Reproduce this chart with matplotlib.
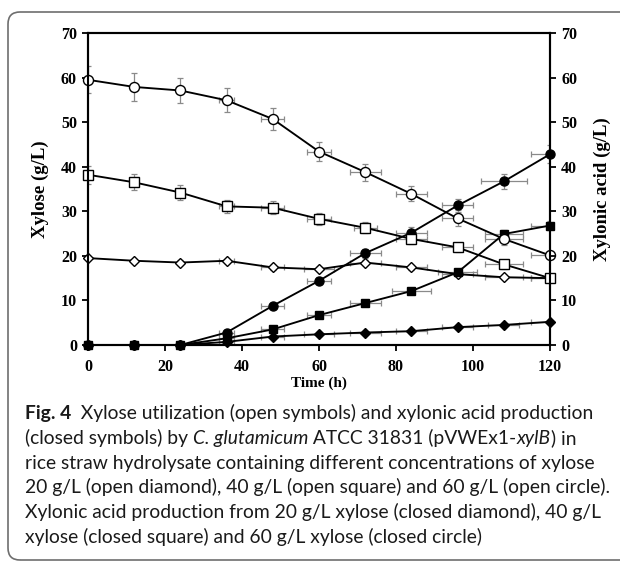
import matplotlib
matplotlib.use('Agg')
import matplotlib.pyplot as plt
from matplotlib.patches import FancyBboxPatch
from matplotlib.transforms import IdentityTransform
from matplotlib.font_manager import FontProperties

# Sampling times (h)
time = [0, 12, 24, 36, 48, 60, 72, 84, 96, 108, 120]

# Xylose (g/L), open symbols
xylose_60 = [59.5, 57.9, 57.1, 54.9, 50.7, 43.4, 38.8, 33.9, 28.4, 23.8, 20.1]
xylose_40 = [38.2, 36.5, 34.2, 31.1, 30.8, 28.3, 26.3, 23.8, 21.9, 18.1, 15.0]
xylose_20 = [19.5, 18.9, 18.5, 18.9, 17.4, 17.0, 18.5, 17.4, 15.9, 15.2, 15.0]

# Xylonic acid (g/L), closed symbols
acid_60 = [0, 0, 0, 2.8, 8.8, 14.4, 20.6, 25.2, 31.3, 36.7, 42.8]
acid_40 = [0, 0, 0, 1.5, 3.5, 6.7, 9.4, 12.1, 16.3, 24.9, 26.8]
acid_20 = [0, 0, 0, 0.7, 1.9, 2.4, 2.8, 3.1, 4.0, 4.5, 5.2]

# error bars (y and time)
xylose_60_yerr = [3.0, 3.1, 2.9, 2.7, 2.5, 2.2, 1.9, 1.7, 1.8, 1.3, 0.3]
xylose_60_xerr = [0, 0, 0, 2, 3, 3, 4, 4, 4, 5, 5]
xylose_40_yerr = [2.0, 1.8, 1.7, 1.5, 1.4, 1.3, 1.2, 1.2, 1.0, 1.0, 0.5]
xylose_40_xerr = [0, 0, 0, 2, 3, 3, 3, 4, 4, 5, 5]
xylose_20_yerr = [0.5, 0.5, 0.5, 0.5, 0.5, 0.5, 0.5, 0.5, 0.5, 0.4, 0.3]
xylose_20_xerr = [0, 0, 0, 2, 3, 4, 4, 4, 4, 5, 5]
acid_60_yerr = [0, 0, 0, 0.5, 0.6, 0.8, 1.0, 1.2, 1.5, 1.7, 2.0]
acid_60_xerr = [0, 0, 0, 2, 3, 3, 4, 4, 4, 6, 5]
acid_40_yerr = [0, 0, 0, 0.3, 0.4, 0.5, 0.6, 0.6, 0.8, 1.0, 1.0]
acid_40_xerr = [0, 0, 0, 2, 3, 3, 4, 5, 5, 5, 5]
acid_20_yerr = [0, 0, 0, 0.2, 0.2, 0.3, 0.3, 0.3, 0.3, 0.3, 0.3]
acid_20_xerr = [0, 0, 0, 2, 3, 4, 4, 4, 4, 4, 5]

caption_lines = [
    [("Fig. 4", "bold", "normal"),
     ("  Xylose utilization (open symbols) and xylonic acid production", "normal", "normal")],
    [("(closed symbols) by ", "normal", "normal"), ("C. glutamicum", "normal", "italic"),
     (" ATCC 31831 (pVWEx1-", "normal", "normal"), ("xylB", "normal", "italic"),
     (") in", "normal", "normal")],
    [("rice straw hydrolysate containing different concentrations of xylose", "normal", "normal")],
    [("20 g/L (open diamond), 40 g/L (open square) and 60 g/L (open circle).", "normal", "normal")],
    [("Xylonic acid production from 20 g/L xylose (closed diamond), 40 g/L", "normal", "normal")],
    [("xylose (closed square) and 60 g/L xylose (closed circle)", "normal", "normal")],
]

W, H = 620, 565
serif = 'Liberation Serif'
cap_font = 'Lato'

fig = plt.figure(figsize=(W / 100, H / 100), dpi=100)
ax = fig.add_axes([88 / W, 1 - 345 / H, (550 - 88) / W, (345 - 33) / H])
ax.set_xlim(0, 120)
ax.set_ylim(0, 70)

err_kw = dict(fmt='none', ecolor='#8a8a8a', elinewidth=0.9, capsize=2, capthick=0.9, zorder=1)
ax.errorbar(time, xylose_20, yerr=xylose_20_yerr, xerr=xylose_20_xerr, **err_kw)
ax.errorbar(time, xylose_40, yerr=xylose_40_yerr, xerr=xylose_40_xerr, **err_kw)
ax.errorbar(time, xylose_60, yerr=xylose_60_yerr, xerr=xylose_60_xerr, **err_kw)
ax.errorbar(time, acid_20, yerr=acid_20_yerr, xerr=acid_20_xerr, **err_kw)
ax.errorbar(time, acid_40, yerr=acid_40_yerr, xerr=acid_40_xerr, **err_kw)
ax.errorbar(time, acid_60, yerr=acid_60_yerr, xerr=acid_60_xerr, **err_kw)

line_kw = dict(color='black', lw=1.35, mec='black', mew=1.0, clip_on=False)
ax.plot(time, xylose_20, marker='D', ms=5.5, mfc='white', zorder=3, **line_kw)
ax.plot(time, acid_20, marker='D', ms=5, mfc='black', zorder=4, **line_kw)
ax.plot(time, acid_60, marker='o', ms=6.5, mfc='black', zorder=5, **line_kw)
ax.plot(time, acid_40, marker='s', ms=6.2, mfc='black', zorder=6, **line_kw)
ax.plot(time, xylose_40, marker='s', ms=6.8, mfc='white', zorder=7, **line_kw)
ax.plot(time, xylose_60, marker='o', ms=7.2, mfc='white', zorder=8, **line_kw)

# right axis for xylonic acid, same scale
ax2 = ax.twinx()
ax2.set_ylim(0, 70)

tick_font = dict(family=serif, weight='bold', size=11.5)
for a in (ax, ax2):
    for s in a.spines.values():
        s.set_linewidth(1.5)
    a.tick_params(direction='out', length=4, width=1.3, pad=4)

ax.set_xticks(range(0, 121, 20))
ax.set_yticks(range(0, 71, 10))
ax2.set_yticks(range(0, 71, 10))
ax.tick_params(axis='x', pad=6)
for lab in ax.get_xticklabels() + ax.get_yticklabels() + ax2.get_yticklabels():
    lab.set_fontproperties(FontProperties(**tick_font))

ax.set_xlabel('Time (h)', fontfamily=serif, fontweight='bold', fontsize=11)
ax.set_ylabel('Xylose (g/L)', fontfamily=serif, fontweight='bold', fontsize=13.5)
ax2.set_ylabel('Xylonic acid (g/L)', fontfamily=serif, fontweight='bold', fontsize=13.5)
ax.xaxis.set_label_coords(0.5, (345 - 383) / 312)
ax.xaxis.label.set_va('center')
ax.yaxis.set_label_coords((40 - 88) / 462, 0.5)
ax.yaxis.label.set_va('center')
ax2.yaxis.set_label_coords((602 - 88) / 462, 0.5)
ax2.yaxis.label.set_va('center')

# rounded frame around figure and caption
frame = FancyBboxPatch((8, 5), 700, 548, boxstyle='round,pad=0,rounding_size=12',
                       transform=IdentityTransform(), fc='none', ec='#6e6e6e', lw=1.2)
fig.add_artist(frame)

# caption with mixed styles, fitted to the reference width
renderer = fig.canvas.get_renderer()


def advance(s, size, weight, style):
    prop = FontProperties(family=cap_font, size=size, weight=weight, style=style)
    w1, _, _ = renderer.get_text_width_height_descent('|' + s + '|', prop, ismath=False)
    w0, _, _ = renderer.get_text_width_height_descent('||', prop, ismath=False)
    return w1 - w0


ref_w = sum(advance(t, 10, wt, st) for t, wt, st in caption_lines[3])
cap_size = 10 * (612 - 25) / ref_w

for i, pieces in enumerate(caption_lines):
    x = 25
    y = H - (419.5 + 24.6 * i)
    for txt, wt, st in pieces:
        fig.text(x, y, txt, transform=IdentityTransform(), va='baseline', ha='left',
                 fontfamily=cap_font, fontsize=cap_size, fontweight=wt, fontstyle=st,
                 color='#1a1a1a')
        x += advance(txt, cap_size, wt, st)

fig.savefig('out.png', dpi=100)
